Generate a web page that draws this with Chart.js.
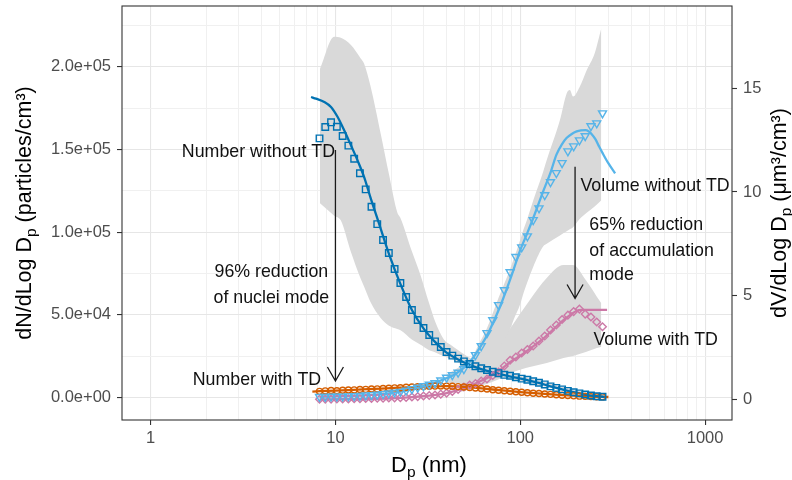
<!DOCTYPE html>
<html><head><meta charset="utf-8">
<script src="https://cdn.jsdelivr.net/npm/chart.js@4.4.1/dist/chart.umd.min.js"></script>
<style>html,body{margin:0;padding:0;background:#fff}canvas{display:block}</style>
</head><body>
<canvas id="c" width="792" height="480" style="width:792px;height:480px"></canvas>
<script>
// ---- data ----
const diameters = [8.2, 8.81, 9.47, 10.18, 10.94, 11.75, 12.63, 13.57, 14.58, 15.67, 16.84, 18.1, 19.45, 20.9, 22.46, 24.13, 25.93, 27.87, 29.95, 32.18, 34.58, 37.16, 39.93, 42.91, 46.11, 49.55, 53.25, 57.22, 61.49, 66.08, 71.01, 76.31, 82.0, 88.1, 94.7, 101.8, 109.3, 117.5, 126.3, 135.7, 145.8, 156.7, 168.4, 181.0, 194.5, 209.0, 224.6, 241.3, 259.3, 278.7];
const numberWithoutTD = [156700, 163600, 166400, 163700, 158100, 152300, 144400, 135600, 125900, 115400, 104900, 95300, 87400, 77800, 69300, 60800, 53000, 46900, 42100, 37900, 34000, 30600, 27600, 25400, 23600, 21900, 20300, 19000, 17800, 16700, 15700, 14800, 13800, 13200, 12300, 11500, 10800, 9900, 9000, 8000, 6800, 5900, 5000, 4100, 3300, 2600, 1900, 1300, 850, 550];
const volumeWithoutTD = [0.12, 0.12, 0.13, 0.13, 0.14, 0.15, 0.16, 0.17, 0.19, 0.21, 0.23, 0.26, 0.29, 0.33, 0.37, 0.42, 0.50, 0.57, 0.64, 0.71, 0.79, 0.92, 1.05, 1.17, 1.29, 1.46, 1.75, 2.14, 2.57, 3.20, 3.82, 4.55, 5.27, 6.14, 6.87, 7.34, 7.87, 8.65, 9.22, 9.85, 10.48, 10.92, 11.40, 11.97, 12.21, 12.50, 12.70, 13.18, 13.32, 13.80];
const numberWithTD = [3800, 4100, 4300, 4200, 4500, 4600, 4700, 4900, 5000, 5200, 5300, 5500, 5700, 5900, 6000, 6300, 6400, 6600, 6700, 6900, 7000, 7100, 7000, 6900, 6700, 6400, 6100, 5800, 5500, 5200, 4800, 4500, 4200, 3900, 3600, 3300, 3000, 2700, 2500, 2200, 2000, 1800, 1500, 1300, 1100, 900, 800, 650, 550, 450];
const volumeWithTD = [0.00, 0.01, 0.01, 0.02, 0.02, 0.02, 0.03, 0.03, 0.04, 0.04, 0.05, 0.05, 0.06, 0.07, 0.08, 0.09, 0.11, 0.13, 0.16, 0.18, 0.21, 0.25, 0.30, 0.38, 0.47, 0.59, 0.69, 0.76, 0.88, 0.98, 1.15, 1.32, 1.61, 1.88, 2.04, 2.23, 2.40, 2.57, 2.81, 3.05, 3.34, 3.58, 3.85, 4.06, 4.23, 4.35, 4.11, 3.97, 3.73, 3.50];

// fitted curves
const fitNumX = [7.38, 7.85, 8.7, 9.46, 10.28, 11.15, 12.13, 13.17, 14.3, 15.54, 17.22, 19.45, 22.46, 25.93, 29.95, 34.58, 39.93, 46.11, 53.25, 61.49, 71.01, 82, 94.7, 109.3, 126.3, 145.8, 168.4, 194.5, 224.6, 259.3, 290];
const fitNumY = [181700, 180700, 178700, 175700, 169600, 161600, 152500, 143400, 133300, 120300, 105200, 87100, 68800, 53000, 41900, 33700, 27200, 23100, 19800, 17300, 15300, 13600, 12100, 10600, 8900, 6800, 5000, 3300, 1900, 900, 400];
const fitVolX = [8.2, 15, 22.5, 30, 37, 45, 50, 55, 61, 68, 78, 90, 100, 109, 120, 134, 146, 157, 168, 178, 190, 202, 213, 225, 235, 243, 255, 267, 280, 299, 326];
const fitVolY = [0.12, 0.2, 0.37, 0.64, 0.9, 1.25, 1.55, 1.95, 2.55, 3.3, 4.5, 6.0, 7.2, 8.0, 8.95, 10.1, 10.95, 11.8, 12.3, 12.6, 12.8, 12.92, 12.97, 12.98, 12.92, 12.8, 12.55, 12.2, 11.85, 11.4, 10.9];
const fitNumTDX = [7.5, 10, 15, 20, 30, 40, 50, 60, 80, 100, 130, 170, 220, 300];
const fitNumTDY = [3700, 4300, 5100, 5800, 6700, 7000, 6600, 5700, 4400, 3400, 2400, 1500, 850, 400];
const fitVolTDX = [8.2, 20, 30, 40, 50, 60, 70, 80, 90, 100, 115, 130, 150, 170, 185, 200, 215, 240, 270, 295];
const fitVolTDY = [0.0, 0.05, 0.15, 0.3, 0.55, 0.85, 1.15, 1.5, 1.85, 2.1, 2.5, 2.85, 3.35, 3.8, 4.05, 4.25, 4.31, 4.31, 4.31, 4.31];

// variability ribbons
const bandNumX = [8.25, 9.85, 10.7, 12.13, 13.7, 14.3, 15.5, 17.6, 19.5, 21.6, 22.5, 26, 28.9, 32, 34.8, 38.6, 42, 45.6, 51.6, 61, 78, 100, 145, 210, 280];
const bandNumHi = [198800, 218100, 217500, 213100, 205000, 201800, 188000, 159200, 134800, 112000, 108400, 88000, 73800, 57600, 45400, 35200, 32000, 29100, 25000, 20500, 16200, 13200, 8500, 4000, 1500];
const bandNumLo = [117500, 110000, 107000, 88000, 71800, 67000, 57600, 48000, 43500, 41500, 40700, 35000, 32000, 28800, 27300, 25000, 23600, 21500, 19000, 16000, 12800, 10200, 6000, 2200, 300];
const bandVolX = [40, 47.4, 55.9, 58.4, 66.2, 74.9, 78, 88.3, 92, 100, 104.2, 108.7, 117.8, 133.3, 139.1, 164, 178.3, 185.4, 193.1, 209.6, 228.8, 252.6, 274.6];
const bandVolHi = [1.2, 1.6, 2.15, 2.5, 3.45, 4.7, 5.1, 6.3, 6.75, 7.7, 8.2, 8.65, 9.61, 11.0, 11.54, 13.47, 14.75, 14.92, 14.6, 15.06, 15.87, 16.68, 17.9];
const bandVolLo = [0.8, 0.77, 1.09, 1.2, 1.57, 2.2, 2.54, 3.4, 3.83, 4.6, 5.13, 5.6, 6.41, 7.38, 7.5, 7.9, 8.1, 8.2, 8.3, 8.7, 9.0, 9.3, 9.6];
const bandVolTDX = [47.4, 60.9, 74.9, 92, 112.7, 139.1, 171.4, 193.1, 226.3, 259.7, 274.6];
const bandVolTDLo = [0.35, 0.64, 0.93, 1.32, 1.56, 1.75, 1.99, 2.09, 2.28, 2.47, 2.54];
const bandVolTDHi = [0.75, 1.74, 2.54, 3.66, 4.79, 5.85, 6.48, 6.48, 5.75, 4.95, 4.63];

// ticks
const xTicks = [1, 2, 3, 4, 5, 6, 7, 8, 9, 10, 20, 30, 40, 50, 60, 70, 80, 90, 100, 200, 300, 400, 500, 600, 700, 800, 900, 1000];
const xMajor = [1, 10, 100, 1000];
const xMajorLabels = ['1', '10', '100', '1000'];
const yTicks = [0, 25000, 50000, 75000, 100000, 125000, 150000, 175000, 200000, 225000];
const yMajor = [0, 50000, 100000, 150000, 200000];
const yMajorLabels = ['0.0e+00', '5.0e+04', '1.0e+05', '1.5e+05', '2.0e+05'];
const y2Ticks = [0, 5, 10, 15];
const y2Labels = ['0', '5', '10', '15'];

// ---- styling ----
const FONT = '"Liberation Sans", Arial, Helvetica, sans-serif';
const C_NUM = '#0072B2', C_VOL = '#56B4E9', C_NUMTD = '#D55E00', C_VOLTD = '#CC79A7', C_BAND = '#d9d9d9';

const xy = (xs, ys) => xs.map((x, i) => ({x: x, y: ys[i]}));

function band(xs, ys, axis, fill) {
  return {data: xy(xs, ys), yAxisID: axis, borderWidth: 0, borderColor: 'rgba(0,0,0,0)',
    backgroundColor: C_BAND, pointRadius: 0, fill: fill, order: 100, cubicInterpolationMode: 'monotone'};
}
function fit(xs, ys, axis, color) {
  return {data: xy(xs, ys), yAxisID: axis, borderColor: color, borderWidth: 2.3, pointRadius: 0,
    fill: false, order: 10, cubicInterpolationMode: 'monotone'};
}
function marks(ys, axis, color, style, r, rot) {
  return {data: xy(diameters, ys), yAxisID: axis, showLine: false, borderColor: color, backgroundColor: 'rgba(0,0,0,0)',
    pointStyle: style, pointRadius: r, pointBorderWidth: 1.4, pointRotation: rot || 0, order: 1};
}

const datasets = [
  band(bandNumX, bandNumLo, 'y', false),
  band(bandNumX, bandNumHi, 'y', '-1'),
  band(bandVolX, bandVolLo, 'y2', false),
  band(bandVolX, bandVolHi, 'y2', '-1'),
  band(bandVolTDX, bandVolTDLo, 'y2', false),
  band(bandVolTDX, bandVolTDHi, 'y2', '-1'),
  fit(fitNumX, fitNumY, 'y', C_NUM),
  fit(fitVolX, fitVolY, 'y2', C_VOL),
  fit(fitNumTDX, fitNumTDY, 'y', C_NUMTD),
  fit(fitVolTDX, fitVolTDY, 'y2', C_VOLTD),
  marks(numberWithoutTD, 'y', C_NUM, 'rect', 4.6, 0),
  marks(volumeWithoutTD, 'y2', C_VOL, 'triangle', 4.6, 180),
  marks(numberWithTD, 'y', C_NUMTD, 'circle', 3, 0),
  marks(volumeWithTD, 'y2', C_VOLTD, 'rectRot', 3.8, 0)
];

const isIn = (arr, v) => arr.some(a => Math.abs(a - v) < 1e-9 * Math.max(1, Math.abs(a)));

// annotations in data coordinates
const notes = [
  {t: 'Number without TD', x: 9.95, y: 145400, axis: 'y', align: 'right'},
  {t: '96% reduction', x: 4.5, y: 72900, axis: 'y', align: 'center'},
  {t: 'of nuclei mode', x: 4.5, y: 57200, axis: 'y', align: 'center'},
  {t: 'Number with TD', x: 8.37, y: 7700, axis: 'y', align: 'right'},
  {t: 'Volume without TD', x: 211.7, y: 10.05, axis: 'y2', align: 'left'},
  {t: '65% reduction', x: 236.6, y: 8.17, axis: 'y2', align: 'left'},
  {t: 'of accumulation', x: 236.6, y: 6.91, axis: 'y2', align: 'left'},
  {t: 'mode', x: 236.6, y: 5.75, axis: 'y2', align: 'left'},
  {t: 'Volume with TD', x: 248.8, y: 2.62, axis: 'y2', align: 'left'}
];
const arrows = [
  {x: 10, y0: 149700, y1: 10100, axis: 'y'},
  {x: 198, y0: 11.22, y1: 4.86, axis: 'y2'}
];

function richText(ctx, parts, x, y, align) {
  let w = 0;
  parts.forEach(p => { ctx.font = p.s + 'px ' + FONT; p.w = ctx.measureText(p.t).width; w += p.w; });
  let cx = align === 'center' ? x - w / 2 : x;
  ctx.textAlign = 'left';
  parts.forEach(p => { ctx.font = p.s + 'px ' + FONT; ctx.fillText(p.t, cx, y + (p.dy || 0)); cx += p.w; });
}

const decor = {
  id: 'decor',
  afterDatasetsDraw(chart) {
    const {ctx, chartArea: a, scales} = chart;
    ctx.save();
    // panel border
    ctx.strokeStyle = '#333333';
    ctx.lineWidth = 1.1;
    ctx.strokeRect(a.left, a.top, a.right - a.left, a.bottom - a.top);
    // arrows
    ctx.strokeStyle = '#1a1a1a';
    ctx.lineWidth = 1.3;
    arrows.forEach(ar => {
      const px = scales.x.getPixelForValue(ar.x);
      const p0 = scales[ar.axis].getPixelForValue(ar.y0);
      const p1 = scales[ar.axis].getPixelForValue(ar.y1);
      ctx.beginPath();
      ctx.moveTo(px, p0); ctx.lineTo(px, p1);
      ctx.moveTo(px - 8, p1 - 14); ctx.lineTo(px, p1); ctx.lineTo(px + 8, p1 - 14);
      ctx.stroke();
    });
    // annotation text
    ctx.fillStyle = '#111111';
    ctx.font = '17.8px ' + FONT;
    ctx.textBaseline = 'alphabetic';
    notes.forEach(n => {
      ctx.textAlign = n.align;
      ctx.fillText(n.t, scales.x.getPixelForValue(n.x), scales[n.axis].getPixelForValue(n.y));
    });
    ctx.restore();
  },
  afterDraw(chart) {
    const {ctx, chartArea: a} = chart;
    ctx.save();
    ctx.fillStyle = '#000000';
    ctx.textBaseline = 'alphabetic';
    // x title
    richText(ctx, [{t: 'D', s: 22}, {t: 'p', s: 15.5, dy: 5}, {t: ' (nm)', s: 22}], (a.left + a.right) / 2 + 2, 472, 'center');
    // left y title
    ctx.save();
    ctx.translate(31, (a.top + a.bottom) / 2);
    ctx.rotate(-Math.PI / 2);
    richText(ctx, [{t: 'dN/dLog D', s: 21.5}, {t: 'p', s: 15.5, dy: 5}, {t: ' (particles/cm\u00B3)', s: 21.5}], 0, 0, 'center');
    ctx.restore();
    // right y title
    ctx.save();
    ctx.translate(786, (a.top + a.bottom) / 2);
    ctx.rotate(-Math.PI / 2);
    richText(ctx, [{t: 'dV/dLog D', s: 21.5}, {t: 'p', s: 15.5, dy: 5}, {t: ' (\u03BCm\u00B3/cm\u00B3)', s: 21.5}], 0, 0, 'center');
    ctx.restore();
    ctx.restore();
  }
};

Chart.defaults.font.family = FONT;

function noPad(s) { s.paddingTop = 0; s.paddingBottom = 0; s.paddingLeft = 0; s.paddingRight = 0; }

new Chart(document.getElementById('c'), {
  type: 'line',
  data: {datasets: datasets},
  options: {
    responsive: false,
    animation: false,
    events: [],
    layout: {padding: {top: 6, left: 0, right: 0, bottom: 0}},
    plugins: {legend: {display: false}, tooltip: {enabled: false}},
    scales: {
      x: {
        type: 'logarithmic', min: 0.715, max: 1399, position: 'bottom',
        afterFit: s => { s.height = 60; noPad(s); },
        afterBuildTicks: s => { s.ticks = xTicks.map(v => ({value: v})); },
        border: {display: false},
        grid: {
          color: c => isIn(xMajor, c.tick.value) ? '#e6e6e6' : '#f0f0f0',
          lineWidth: c => isIn(xMajor, c.tick.value) ? 1.1 : 1,
          tickColor: c => isIn(xMajor, c.tick.value) ? '#333333' : 'rgba(0,0,0,0)',
          tickLength: 5, tickWidth: 1.1
        },
        ticks: {
          autoSkip: false, maxRotation: 0, padding: 4, color: '#4d4d4d', font: {size: 16.5},
          callback: v => { const i = xMajor.indexOf(v); return i >= 0 ? xMajorLabels[i] : ''; }
        }
      },
      y: {
        type: 'linear', min: -13500, max: 236700, position: 'left',
        afterFit: s => { s.width = 122; noPad(s); },
        afterBuildTicks: s => { s.ticks = yTicks.map(v => ({value: v})); },
        border: {display: false},
        grid: {
          color: c => isIn(yMajor, c.tick.value) ? '#e6e6e6' : '#f0f0f0',
          lineWidth: c => isIn(yMajor, c.tick.value) ? 1.1 : 1,
          tickColor: c => isIn(yMajor, c.tick.value) ? '#333333' : 'rgba(0,0,0,0)',
          tickLength: 5, tickWidth: 1.1
        },
        ticks: {
          autoSkip: false, padding: 6, color: '#4d4d4d', font: {size: 16.5},
          callback: v => { const i = yMajor.indexOf(v); return i >= 0 ? yMajorLabels[i] : ''; }
        }
      },
      y2: {
        type: 'linear', min: -0.998, max: 18.97, position: 'right',
        afterFit: s => { s.width = 60; noPad(s); },
        afterBuildTicks: s => { s.ticks = y2Ticks.map(v => ({value: v})); },
        border: {display: false},
        grid: {drawOnChartArea: false, tickColor: '#333333', tickLength: 5, tickWidth: 1.1},
        ticks: {
          autoSkip: false, padding: 6, color: '#4d4d4d', font: {size: 16.5},
          callback: v => { const i = y2Ticks.indexOf(v); return i >= 0 ? y2Labels[i] : ''; }
        }
      }
    }
  },
  plugins: [decor]
});
</script>
</body></html>
